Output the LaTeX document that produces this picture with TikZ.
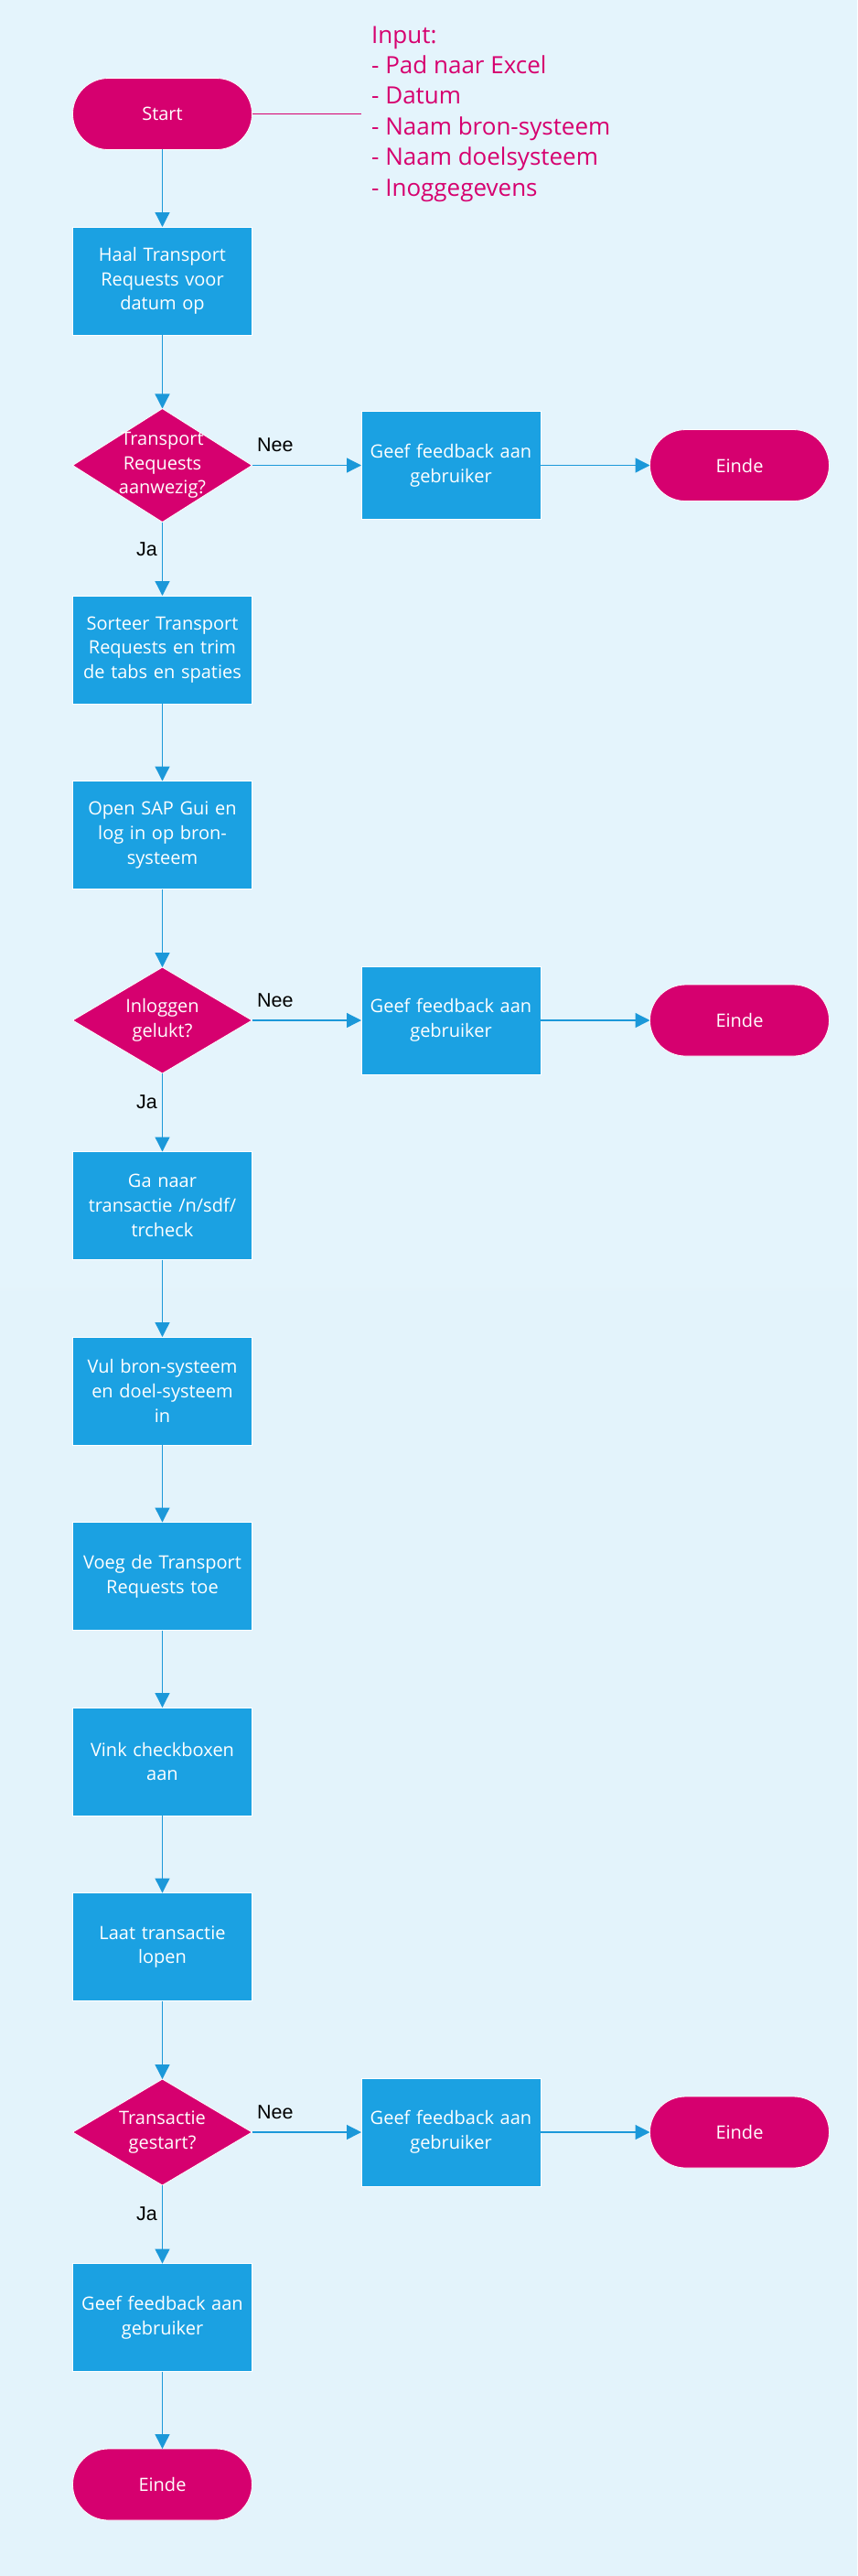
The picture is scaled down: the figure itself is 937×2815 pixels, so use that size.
\documentclass[tikz,border=0pt]{standalone}
\usepackage{fontspec}
\setmainfont{Open Sans}
\newfontfamily\lblfont{Liberation Sans}
\usetikzlibrary{matrix,arrows.meta,shapes.geometric}

\definecolor{mag}{HTML}{D6006F}
\definecolor{procblue}{HTML}{1BA1E2}
\definecolor{flowblue}{HTML}{1B98D9}
\definecolor{bgtop}{HTML}{E4F4FC}
\definecolor{bgmid}{HTML}{D4EBF7}
\definecolor{bgbot}{HTML}{E3F3FB}

\tikzset{
  txt/.style={text=white, font=\fontsize{20pt}{26.7pt}\selectfont},
  proc/.style={txt, rectangle, fill=procblue, draw=white, line width=0.8pt,
    text width=190pt, align=center, inner sep=3pt,
    minimum width=196pt, minimum height=118pt},
  term/.style={txt, rectangle, rounded corners=39pt, fill=mag, draw=white,
    line width=0.8pt, minimum width=196pt, minimum height=78pt},
  dec/.style={diamond, fill=mag, draw=white, line width=0.8pt, inner sep=0pt,
    minimum width=196pt, minimum height=116pt},
  dtext/.style={txt, text width=150pt, align=center, inner sep=0pt},
  yn/.style={font=\lblfont\fontsize{21.5pt}{24pt}\selectfont, text=black, inner sep=0pt},
  ja/.style={yn, pos=0.37, left=5pt},
  nee/.style={yn, pos=0, anchor=south west, xshift=5pt, yshift=14pt},
  input/.style={anchor=west, align=left, text=mag, inner xsep=11pt, inner ysep=0pt,
    font=\fontsize{26pt}{33.4pt}\selectfont}
}

\begin{document}
\begin{tikzpicture}[>={Triangle[length=16pt,width=16pt]}]
\useasboundingbox (0pt,0pt) rectangle (937pt,-2815pt);
\shade[top color=bgtop, middle color=bgmid, bottom color=bgbot]
  (0pt,0pt) rectangle (937pt,-2815pt);

\matrix (m) [matrix of nodes, anchor=north west, inner sep=0pt, outer sep=0pt,
  row sep=83.7pt, column sep=118.7pt, nodes={anchor=center}]
  at (79.1pt,-85.1pt)
{ |[term]| Start \\
  |[proc]| {Haal Transport\\Requests voor\\datum op} \\[-4pt]
  |[dec, minimum height=124pt, label={[dtext]center:{Transport\\Requests\\aanwezig?}}]| {}
    & |[proc]| {Geef feedback aan\\gebruiker} & |[term]| Einde \\[-4pt]
  |[proc]| {Sorteer Transport\\Requests en trim\\de tabs en spaties} \\
  |[proc]| {Open SAP Gui en\\log in op bron-\\systeem} \\
  |[dec, label={[dtext]center:{Inloggen\\gelukt?}}]| {}
    & |[proc]| {Geef feedback aan\\gebruiker} & |[term]| Einde \\
  |[proc]| {Ga naar\\transactie /n/sdf/\\trcheck} \\
  |[proc]| {Vul bron-systeem\\en doel-systeem\\in} \\
  |[proc]| {Voeg de Transport\\Requests toe} \\
  |[proc]| {Vink checkboxen\\aan} \\
  |[proc]| {Laat transactie\\lopen} \\
  |[dec, label={[dtext]center:{Transactie\\gestart?}}]| {}
    & |[proc]| {Geef feedback aan\\gebruiker} & |[term]| Einde \\
  |[proc]| {Geef feedback aan\\gebruiker} \\
  |[term]| Einde \\
};

\node[input] (in) at ([xshift=119.5pt]m-1-1.east)
  {Input:\\- Pad naar Excel\\- Datum\\- Naam bron-systeem\\- Naam doelsysteem\\- Inoggegevens};
\draw[mag, line width=1.2pt] (m-1-1) -- (in);

\path[->, color=flowblue, line width=1.3pt]
(m-1-1) edge (m-2-1)
(m-2-1) edge (m-3-1)
(m-3-1) edge node[nee] {Nee} (m-3-2)
        edge node[ja] {Ja} (m-4-1)
(m-3-2) edge (m-3-3)
(m-4-1) edge (m-5-1)
(m-5-1) edge (m-6-1)
(m-6-1) edge node[nee] {Nee} (m-6-2)
        edge node[ja] {Ja} (m-7-1)
(m-6-2) edge (m-6-3)
(m-7-1) edge (m-8-1)
(m-8-1) edge (m-9-1)
(m-9-1) edge (m-10-1)
(m-10-1) edge (m-11-1)
(m-11-1) edge (m-12-1)
(m-12-1) edge node[nee] {Nee} (m-12-2)
         edge node[ja] {Ja} (m-13-1)
(m-12-2) edge (m-12-3)
(m-13-1) edge (m-14-1);
\end{tikzpicture}
\end{document}
